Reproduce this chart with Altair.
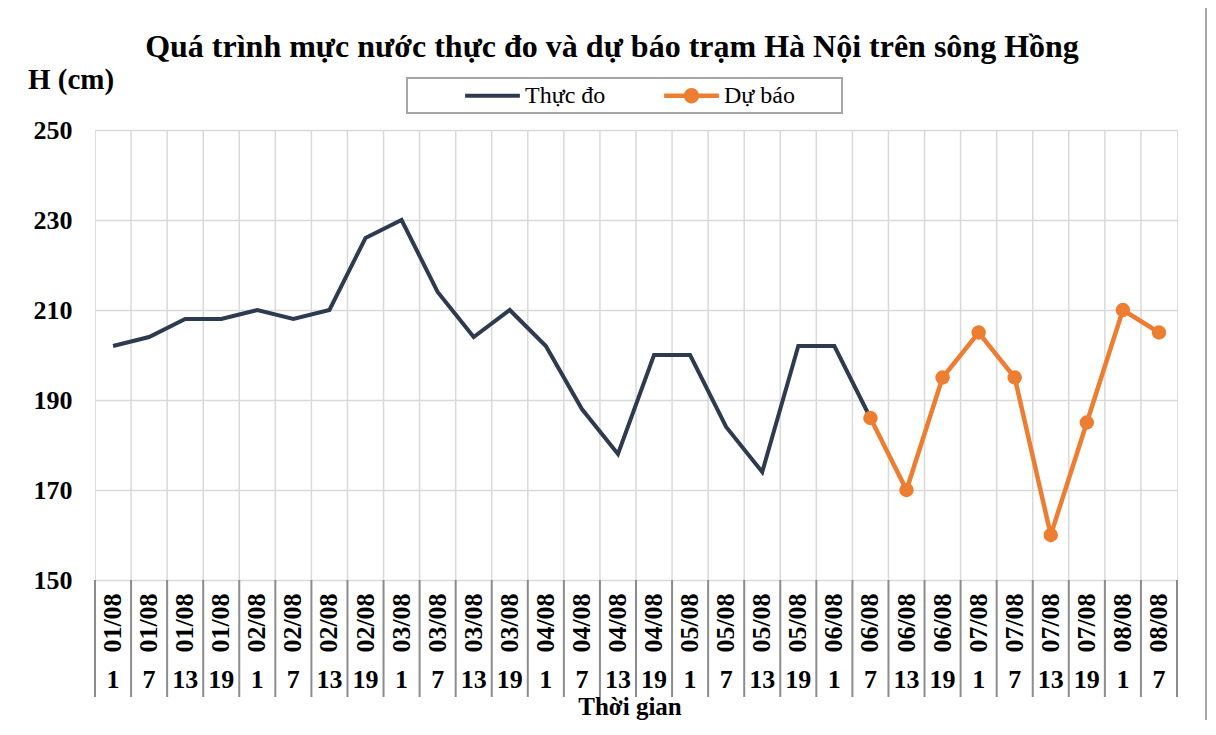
import altair as alt
import pandas as pd

# ---------------- data ----------------
dates = (["01/08"] * 4 + ["02/08"] * 4 + ["03/08"] * 4 + ["04/08"] * 4 +
         ["05/08"] * 4 + ["06/08"] * 4 + ["07/08"] * 4 + ["08/08"] * 2)
hours = ["1", "7", "13", "19"] * 7 + ["1", "7"]
observed = [202, 204, 208, 208, 210, 208, 210, 226, 230, 214, 204, 210,
            202, 188, 178, 200, 200, 184, 174, 202, 202, 186]
forecast = [186, 170, 195, 205, 195, 160, 185, 210, 205]
forecast_start = 21
series_names = ["Thực đo", "Dự báo"]
series_colors = ["#2E3B4E", "#ED7D31"]
y_ticks = [150, 170, 190, 210, 230, 250]
title_text = "Quá trình mực nước thực đo và dự báo trạm Hà Nội trên sông Hồng"
y_title = "H (cm)"
x_title = "Thời gian"

# ---------------- tables ----------------
n = len(dates)
cat_df = pd.DataFrame({"idx": list(range(n)), "date": dates, "hour": hours})
obs_df = pd.DataFrame({"idx": list(range(len(observed))), "value": observed,
                       "series": series_names[0]})
fc_df = pd.DataFrame({"idx": list(range(forecast_start, forecast_start + len(forecast))),
                      "value": forecast, "series": series_names[1]})
all_df = pd.concat([obs_df, fc_df], ignore_index=True)

W, H = 1082, 450
FONT = "Liberation Serif"

x_scale = alt.Scale(domain=[-0.5, n - 0.5], nice=False, zero=False)
y_scale = alt.Scale(domain=[y_ticks[0], y_ticks[-1]], nice=False, zero=False)


def xq(field):
    return alt.X(field, type="quantitative", scale=x_scale, axis=None)


x_main = alt.X("idx:Q", scale=x_scale,
               axis=alt.Axis(labels=False, ticks=False, grid=False, domain=True,
                             domainColor="#8C8C8C", domainWidth=2, title=None))
y_main = alt.Y("value:Q", scale=y_scale,
               axis=alt.Axis(values=y_ticks, grid=True, gridColor="#D9D9D9",
                             gridWidth=1.5, domain=False, ticks=False,
                             labelFont=FONT, labelFontWeight="bold", labelFontSize=26,
                             labelColor="black", labelPadding=23, title=None))

one = pd.DataFrame({"a": [0]})

# outer frame
frame = alt.Chart(one).mark_rect(fillOpacity=0, stroke="#A6A6A6", strokeWidth=2).encode(
    x=alt.value(-88), x2=alt.value(1111), y=alt.value(-125), y2=alt.value(640))

# legend frame
legend_box = alt.Chart(one).mark_rect(fillOpacity=0, stroke="#A6A6A6", strokeWidth=2).encode(
    x=alt.value(312), x2=alt.value(747), y=alt.value(-52), y2=alt.value(-17))

# vertical interior grid lines
vgrid = alt.Chart(cat_df).transform_filter(f"datum.idx < {n - 1}").transform_calculate(
    b="datum.idx + 0.5").mark_rule(color="#D9D9D9", strokeWidth=1.5).encode(
    x=xq("b"), y=alt.value(0), y2=alt.value(H))

# separators in label area
SEP_END = 567
sep_left = alt.Chart(cat_df).transform_calculate(b="datum.idx - 0.5").mark_rule(
    color="#8C8C8C", strokeWidth=2).encode(x=xq("b"), y=alt.value(H), y2=alt.value(SEP_END))
sep_right = alt.Chart(cat_df).transform_filter(f"datum.idx == {n - 1}").transform_calculate(
    b="datum.idx + 0.5").mark_rule(color="#8C8C8C", strokeWidth=2).encode(
    x=xq("b"), y=alt.value(H), y2=alt.value(SEP_END))

obs_line = alt.Chart(obs_df).mark_line(color=series_colors[0], strokeWidth=4).encode(
    x=x_main, y=y_main)
fc_line = alt.Chart(fc_df).mark_line(color=series_colors[1], strokeWidth=4.5).encode(
    x=xq("idx"), y=alt.Y("value:Q", scale=y_scale))
fc_pts = alt.Chart(fc_df).mark_circle(color=series_colors[1], size=210, opacity=1).encode(
    x=xq("idx"), y=alt.Y("value:Q", scale=y_scale))

line_path = "M-1,-0.07H1V0.07H-1Z"
line_dot_path = ("M-1,-0.08H1V0.08H-1Z "
                 "M-0.28,0A0.28,0.28 0 1 1 0.28,0A0.28,0.28 0 1 1 -0.28,0Z")

leg = alt.Legend(orient="none", legendX=370, legendY=-62, direction="horizontal",
                 title=None, labelFont=FONT, labelFontSize=24, labelColor="black",
                 symbolSize=3000, symbolOpacity=1, symbolStrokeWidth=0,
                 columnPadding=58, labelOffset=5, padding=0)

legend_layer = alt.Chart(all_df).mark_point(filled=True, opacity=0, size=10).encode(
    x=xq("idx"), y=alt.Y("value:Q", scale=y_scale),
    color=alt.Color("series:N", scale=alt.Scale(domain=series_names, range=series_colors),
                    legend=leg),
    shape=alt.Shape("series:N", scale=alt.Scale(domain=series_names,
                                                 range=[line_path, line_dot_path]),
                    legend=leg))

date_lbl = alt.Chart(cat_df).mark_text(angle=270, font=FONT, fontWeight="bold", fontSize=26,
                                       color="black", align="center", baseline="middle").encode(
    x=xq("idx"), y=alt.value(493), text="date:N")
hour_lbl = alt.Chart(cat_df).mark_text(font=FONT, fontWeight="bold", fontSize=26,
                                       color="black", align="center", baseline="middle").encode(
    x=xq("idx"), y=alt.value(550), text="hour:N")

title = alt.Chart(pd.DataFrame({"t": [title_text]})).mark_text(
    font=FONT, fontWeight="bold", fontSize=32, color="black", align="center",
    baseline="middle").encode(x=alt.value(517), y=alt.value(-83), text="t:N")
ytitle = alt.Chart(pd.DataFrame({"t": [y_title]})).mark_text(
    font=FONT, fontWeight="bold", fontSize=29, color="black", align="left",
    baseline="middle").encode(x=alt.value(-67), y=alt.value(-50), text="t:N")
xtitle = alt.Chart(pd.DataFrame({"t": [x_title]})).mark_text(
    font=FONT, fontWeight="bold", fontSize=25, color="black", align="center",
    baseline="alphabetic").encode(x=alt.value(535), y=alt.value(585), text="t:N")

chart = alt.layer(
    frame, legend_box, vgrid, sep_left, sep_right, obs_line, fc_line, fc_pts,
    legend_layer, date_lbl, hour_lbl, title, ytitle, xtitle
).properties(
    width=W, height=H,
    autosize=alt.AutoSizeParams(type="none"),
    padding={"left": 87, "top": 122, "right": 31, "bottom": 140},
).configure_view(stroke="#BFBFBF", strokeWidth=1.5).configure(background="white")

chart.save("out.html", embed_options={"renderer": "svg", "actions": False})
